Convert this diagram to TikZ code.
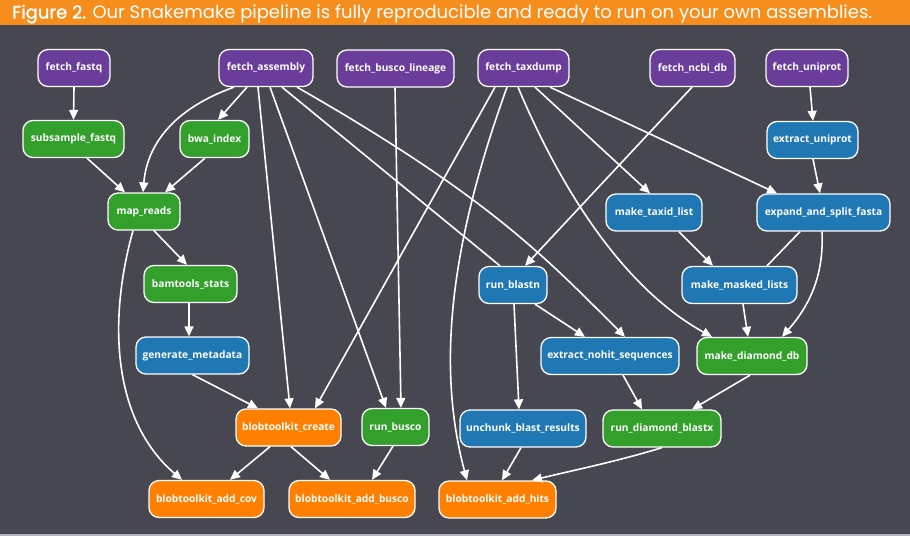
\documentclass[tikz,border=0pt]{standalone}
\usepackage{fontspec}
\setmainfont{Open Sans}
\newfontfamily\titlefont{Poppins}
\newfontfamily\titleboldfont[FakeBold=1.3]{Poppins}
\usetikzlibrary{arrows.meta}
\definecolor{bg}{HTML}{474751}
\definecolor{hdr}{HTML}{F68E1E}
\definecolor{cpurple}{HTML}{6A3D9A}
\definecolor{cgreen}{HTML}{33A02C}
\definecolor{cblue}{HTML}{1F78B4}
\definecolor{corange}{HTML}{FF7F00}
\definecolor{rimline}{HTML}{B4B4BE}
\begin{document}
\begin{tikzpicture}[x=1pt,y=-1pt,
  rulebox/.style={draw=white, line width=1.3pt, rounded corners=10pt, text=white,
    font=\fontsize{10.2}{12}\selectfont\bfseries, minimum height=37pt, inner sep=0pt},
  fetchbox/.style={rulebox, fill=cpurple},
  greenbox/.style={rulebox, fill=cgreen},
  bluebox/.style={rulebox, fill=cblue},
  orangebox/.style={rulebox, fill=corange},
  flow/.style={draw=white, line width=1.6pt, -{Triangle[length=10pt,width=9pt]}},
  plainflow/.style={draw=white, line width=1.6pt}]
\useasboundingbox (0,0) rectangle (910,536);
\fill[bg] (0,0) rectangle (910,536);
\fill[hdr] (0,0) rectangle (910,25);
\draw[rimline, line width=1.5pt] (0,535.2) -- (910,535.2);
\node[anchor=base west, inner sep=0pt, text=white] (title) at (12,18.5)
  {\resizebox{860pt}{!}{\titleboldfont Figure 2.\titlefont{} Our Snakemake pipeline is fully reproducible and ready to run on your own assemblies.}};

% row 1
\node[fetchbox, minimum width=72pt] (ffq) at (74,68) {fetch\_fastq};
\node[fetchbox, minimum width=94pt] (fas) at (266,68) {fetch\_assembly};
\node[fetchbox, minimum width=117pt] (fbl) at (395.5,68.5) {fetch\_busco\_lineage};
\node[fetchbox, minimum width=91pt] (ftd) at (523.5,68) {fetch\_taxdump};
\node[fetchbox, minimum width=85pt] (fnc) at (692.5,68) {fetch\_ncbi\_db};
\node[fetchbox, minimum width=82pt] (fun) at (807,68) {fetch\_uniprot};
% row 2
\node[greenbox, minimum width=101pt] (ssf) at (73.5,139) {subsample\_fastq};
\node[greenbox, minimum width=69pt] (bwa) at (214.5,139) {bwa\_index};
\node[bluebox, minimum width=91pt] (exu) at (812.5,140) {extract\_uniprot};
% row 3
\node[greenbox, minimum width=72pt] (mpr) at (144,211.5) {map\_reads};
\node[bluebox, minimum width=96pt] (mtl) at (654,212.5) {make\_taxid\_list};
\node[bluebox, minimum width=133pt] (esf) at (823.5,212.5) {expand\_and\_split\_fasta};
% row 4
\node[greenbox, minimum width=93pt] (bts) at (190.5,284) {bamtools\_stats};
\node[bluebox, minimum width=68pt] (rbn) at (513,285) {run\_blastn};
\node[bluebox, minimum width=115pt] (mml) at (739.5,285) {make\_masked\_lists};
% row 5
\node[bluebox, minimum width=113pt] (gmd) at (192.5,355.5) {generate\_metadata};
\node[bluebox, minimum width=138pt] (ens) at (610,356) {extract\_nohit\_sequences};
\node[greenbox, minimum width=110pt] (mdd) at (752,356) {make\_diamond\_db};
% row 6
\node[orangebox, minimum width=105pt] (btc) at (288.5,427.5) {blobtoolkit\_create};
\node[greenbox, minimum width=67pt] (rbu) at (395.5,427) {run\_busco};
\node[bluebox, minimum width=126pt] (ubr) at (523,428.5) {unchunk\_blast\_results};
\node[greenbox, minimum width=118pt] (rdb) at (662,428.5) {run\_diamond\_blastx};
% row 7
\node[orangebox, minimum width=115pt] (bac) at (206.5,499) {blobtoolkit\_add\_cov};
\node[orangebox, minimum width=126pt] (bab) at (352,499) {blobtoolkit\_add\_busco};
\node[orangebox, minimum width=117pt] (bah) at (497.5,499.5) {blobtoolkit\_add\_hits};

% edges
\draw[flow] (ffq.south) -- (ssf.north);
\draw[flow] ([xshift=13.5pt]ssf.south) -- ([xshift=-19pt]mpr.north);
\draw[flow] ([xshift=-9.5pt]bwa.south) -- ([xshift=21pt]mpr.north);
\draw[flow] ([xshift=-19pt]fas.south) -- ([xshift=3.5pt]bwa.north);
\draw[flow] ([xshift=-32pt]fas.south) .. controls (173,109) and (147,145) .. ([xshift=-1pt]mpr.north);
\draw[flow] ([xshift=10pt]mpr.south) -- ([xshift=-3.5pt]bts.north);
\draw[flow] ([xshift=-1.5pt]bts.south) -- ([xshift=-3.5pt]gmd.north);
\draw[flow] (gmd.south) -- ([xshift=-30.5pt]btc.north);
\draw[flow] ([xshift=-11pt]mpr.south) .. controls (108,320) and (112,420) .. ([xshift=-24.5pt]bac.north);
\draw[flow] ([xshift=-8pt]fas.south) -- ([xshift=1.5pt]btc.north);
\draw[flow] ([xshift=4pt]fas.south) -- ([xshift=-9.5pt]rbu.north);
\draw[flow] ([xshift=-0.5pt]fbl.south) -- ([xshift=5.5pt]rbu.north);
\draw[plainflow] ([xshift=16pt]fas.south) -- ([xshift=-13pt]rbn.north);
\draw[flow] ([xshift=31pt]fas.south) .. controls (489,197) and (545,257) .. ([xshift=15pt]ens.north);
\draw[flow] ([xshift=-28.5pt]ftd.south) -- ([xshift=26.5pt]btc.north);
\draw[flow] ([xshift=-16.5pt]ftd.south) .. controls (453,237) and (435,361) .. ([xshift=-30.5pt]bah.north);
\draw[flow] ([xshift=11.5pt]ftd.south) -- ([xshift=-4pt]mtl.north);
\draw[flow] ([xshift=26.5pt]ftd.south) -- ([xshift=-46.5pt]esf.north);
\draw[flow] ([xshift=-5.5pt]ftd.south) .. controls (560,187) and (622,287) .. ([xshift=-40pt]mdd.north);
\draw[flow] ([xshift=-0.5pt]fnc.south) -- ([xshift=12pt]rbn.north);
\draw[flow] ([xshift=3pt]fun.south) -- ([xshift=0.5pt]exu.north);
\draw[flow] ([xshift=0.5pt]exu.south) -- ([xshift=-3.5pt]esf.north);
\draw[plainflow] ([xshift=-23.5pt]esf.south) -- ([xshift=27.5pt]mml.north);
\draw[flow] ([xshift=-1.5pt]esf.south) .. controls (824,275) and (810,305) .. ([xshift=30pt]mdd.north);
\draw[flow] ([xshift=25pt]mtl.south) -- ([xshift=-26.5pt]mml.north);
\draw[flow] ([xshift=3.5pt]mml.south) -- ([xshift=-4pt]mdd.north);
\draw[flow] ([xshift=22pt]rbn.south) -- ([xshift=-25pt]ens.north);
\draw[flow] ([xshift=1pt]rbn.south) -- ([xshift=-4pt]ubr.north);
\draw[flow] ([xshift=13pt]ens.south) -- ([xshift=-20pt]rdb.north);
\draw[flow] ([xshift=-2pt]mdd.south) -- ([xshift=30pt]rdb.north);
\draw[flow] ([xshift=-18.5pt]btc.south) -- ([xshift=23.5pt]bac.north);
\draw[flow] ([xshift=2.5pt]btc.south) -- ([xshift=-22pt]bab.north);
\draw[flow] ([xshift=-2.5pt]rbu.south) -- ([xshift=20pt]bab.north);
\draw[flow] ([xshift=-2pt]ubr.south) -- ([xshift=4.5pt]bah.north);
\draw[flow] (rdb.south) .. controls (615,462) and (570,471) .. ([xshift=34.5pt]bah.north);
\end{tikzpicture}
\end{document}
